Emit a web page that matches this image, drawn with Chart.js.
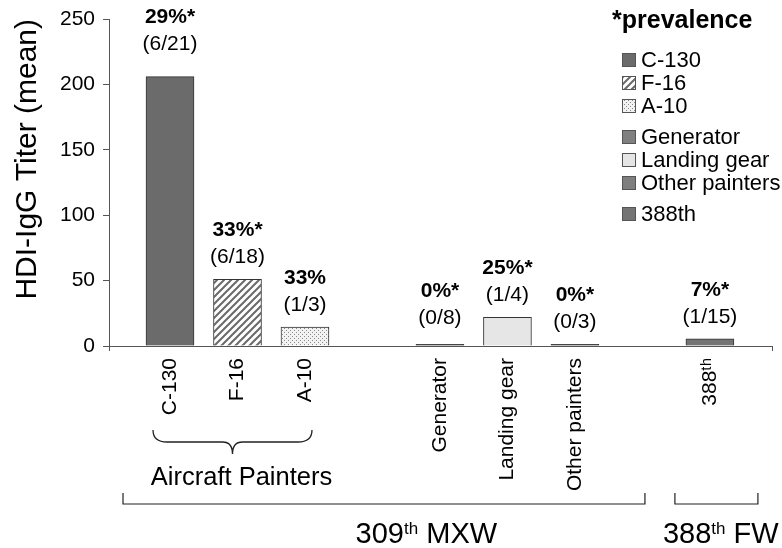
<!DOCTYPE html>
<html><head><meta charset="utf-8">
<script src="https://cdn.jsdelivr.net/npm/chart.js@4.4.0/dist/chart.umd.min.js"></script>
<style>html,body{margin:0;padding:0;background:#fff;}#wrap{width:782px;height:548px;position:relative;}</style>
</head><body><div id="wrap"><canvas id="c" width="782" height="548"></canvas></div>
<script>
// ---- data ----
const categories = ["C-130","F-16","A-10","","Generator","Landing gear","Other painters","","388th"];
const tickLabels = ["C-130","F-16","A-10","","Generator","Landing gear","Other painters","","388ᵗʰ"];
const titerMeans = [206, 51, 14.5, null, 1.2, 22, 1.2, null, 5.5];
const prevalenceLabels = ["29%*","33%*","33%","","0%*","25%*","0%*","","7%*"];
const countLabels = ["(6/21)","(6/18)","(1/3)","","(0/8)","(1/4)","(0/3)","","(1/15)"];
const yTicks = [0,50,100,150,200,250];
const legendTitle = "*prevalence";
const yTitle = "HDI-IgG Titer (mean)";
const groupPainters = "Aircraft Painters";
const groupWing1 = ["309","th"," MXW"];
const groupWing2 = ["388","th"," FW"];

// ---- styles ----
const FONT = 'Arial, "Liberation Sans", sans-serif';
Chart.defaults.font.family = FONT;
Chart.defaults.color = '#000';
const labelLift = [10, 0, 0, 0, 4, 0, 0, 0, 0];

const canvas = document.getElementById('c');
const c2d = canvas.getContext('2d');

function hatchPattern(){
  const s=7, c=document.createElement('canvas'); c.width=c.height=s;
  const g=c.getContext('2d'); g.fillStyle='#fff'; g.fillRect(0,0,s,s);
  g.strokeStyle='#6a6a6a'; g.lineWidth=2; g.beginPath();
  g.moveTo(-1,s+1); g.lineTo(s+1,-1);
  g.moveTo(-1,1); g.lineTo(1,-1);
  g.moveTo(s-1,s+1); g.lineTo(s+1,s-1);
  g.stroke();
  return c2d.createPattern(c,'repeat');
}
function dotPattern(){
  const s=4, c=document.createElement('canvas'); c.width=c.height=s;
  const g=c.getContext('2d'); g.fillStyle='#f2f2f2'; g.fillRect(0,0,s,s);
  g.fillStyle='#8a8a8a'; g.fillRect(0,0,1,1); g.fillRect(2,2,1,1);
  return c2d.createPattern(c,'repeat');
}
const fills = ['#6b6b6b', hatchPattern(), dotPattern(), null, '#808080', '#e6e6e6', '#7f7f7f', null, '#747474'];

const xMin = -0.904, xMax = 8.92;

const annot = {
  id:'annot',
  afterDatasetsDraw(chart){
    const ctx = chart.ctx, meta = chart.getDatasetMeta(0), xs = chart.scales.x;
    const px = v => xs.getPixelForValue(v);
    ctx.save();
    ctx.fillStyle = '#000'; ctx.textAlign = 'center'; ctx.textBaseline = 'middle';
    titerMeans.forEach((v,i)=>{
      if (v === null) return;
      const b = meta.data[i];
      const cy = b.y - 22 - labelLift[i];
      ctx.font = '21px ' + FONT;
      ctx.fillText(countLabels[i], b.x, cy);
      ctx.font = 'bold 21px ' + FONT;
      ctx.fillText(prevalenceLabels[i], b.x, cy - 27);
    });
    // legend
    ctx.textAlign = 'left';
    ctx.font = 'bold 25px ' + FONT;
    ctx.fillText(legendTitle, 612, 21);
    ctx.font = '22px ' + FONT;
    let y = 60;
    categories.forEach((cat,i)=>{
      if (!cat) { y += 8; return; }
      ctx.fillStyle = fills[i];
      ctx.fillRect(622.5, y-6.5, 13, 13);
      ctx.strokeStyle = '#555'; ctx.lineWidth = 1;
      ctx.strokeRect(622.5, y-6.5, 13, 13);
      ctx.fillStyle = '#000';
      ctx.fillText(cat, 641, y+1);
      y += 23;
    });
    // brace for aircraft painters
    const L = px(0)-17, R = px(2)+7, M = (L+R)/2, T = 430;
    ctx.strokeStyle = '#222'; ctx.lineWidth = 1.3;
    ctx.beginPath();
    ctx.moveTo(L,T);
    ctx.quadraticCurveTo(L,T+12,L+14,T+12);
    ctx.lineTo(M-10,T+12);
    ctx.quadraticCurveTo(M,T+12,M,T+24);
    ctx.quadraticCurveTo(M,T+12,M+10,T+12);
    ctx.lineTo(R-14,T+12);
    ctx.quadraticCurveTo(R,T+12,R,T);
    ctx.stroke();
    ctx.textAlign = 'center';
    ctx.font = '25.5px ' + FONT;
    ctx.fillText(groupPainters, M+9, 478);
    // brackets
    const bracket = (a,b)=>{ ctx.beginPath(); ctx.moveTo(a,493); ctx.lineTo(a,504); ctx.lineTo(b,504); ctx.lineTo(b,493); ctx.stroke(); };
    ctx.lineWidth = 1.2;
    bracket(px(0)-47, px(6)+70);
    bracket(px(8)-35, px(8)+48);
    // group texts with superscript
    const sup = (parts, x0) => {
      ctx.textAlign='left'; ctx.textBaseline='alphabetic';
      let x = x0;
      ctx.font = '29px ' + FONT; ctx.fillText(parts[0], x, 543); x += ctx.measureText(parts[0]).width;
      ctx.font = '17px ' + FONT; ctx.fillText(parts[1], x, 534); x += ctx.measureText(parts[1]).width;
      ctx.font = '29px ' + FONT; ctx.fillText(parts[2], x, 543);
    };
    sup(groupWing1, px(2.75));
    sup(groupWing2, px(8)-47);
    ctx.restore();
  }
};

new Chart(canvas, {
  type:'bar',
  data:{
    datasets:[{
      data: titerMeans.map((v,i)=>({x:i, y:v})),
      backgroundColor: fills,
      borderColor:'#333',
      borderWidth:1,
      barThickness:48
    }]
  },
  options:{
    responsive:false, animation:false,
    layout:{padding:{top:19,right:10,left:0,bottom:0}},
    plugins:{legend:{display:false}, tooltip:{enabled:false}},
    scales:{
      x:{
        type:'linear', min:xMin, max:xMax, offset:false,
        grid:{drawOnChartArea:false, drawTicks:true, tickLength:5, offset:false,
          tickColor: c => (c.tick && (c.tick.value===xMin || c.tick.value===xMax)) ? '#555' : 'rgba(0,0,0,0)'},
        border:{color:'#555', width:1},
        afterBuildTicks: s => { s.ticks = [{value:xMin}, ...categories.map((c,i)=>({value:i})), {value:xMax}]; },
        ticks:{autoSkip:false, minRotation:90, maxRotation:90, padding:7, font:{size:21},
          callback: v => Number.isInteger(v) ? tickLabels[v] : ''},
        afterFit: s => { s.height = 202; s.paddingLeft = 0; s.paddingRight = 0; }
      },
      y:{
        min:0, max:250,
        afterBuildTicks: s => { s.ticks = yTicks.map(v=>({value:v})); },
        ticks:{padding:8, font:{size:21}},
        grid:{drawOnChartArea:false, tickLength:6, tickColor:'#555'},
        border:{color:'#555', width:1},
        title:{display:true, text:yTitle, font:{size:30}, align:'end', padding:{top:10,bottom:0}},
        afterFit: s => { s.width = 109; s.paddingTop = 0; s.paddingBottom = 0; }
      }
    }
  },
  plugins:[annot]
});
</script>
</body></html>
